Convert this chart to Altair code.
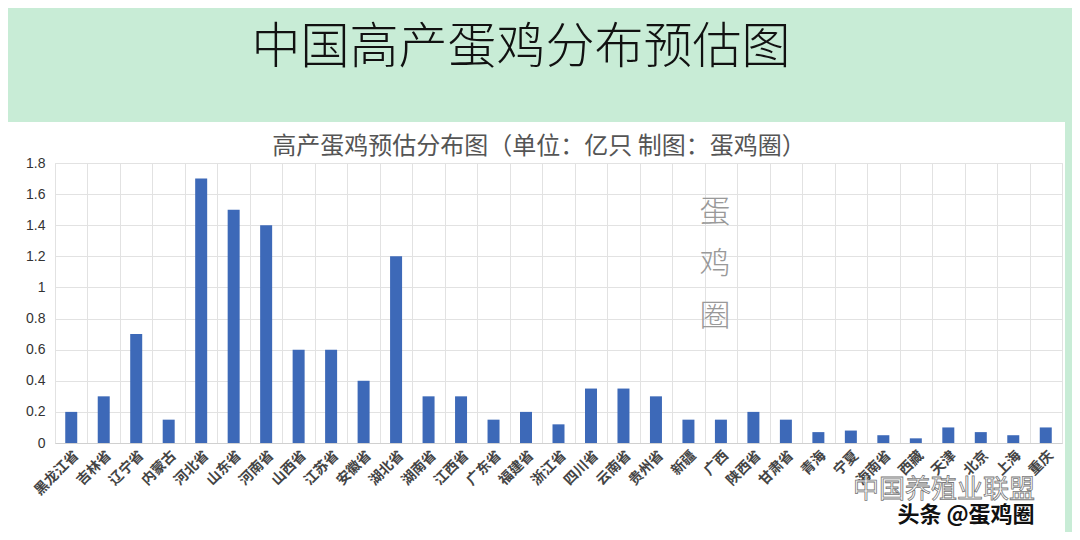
import altair as alt
import pandas as pd

# ---- data ----
provinces = ["黑龙江省", "吉林省", "辽宁省", "内蒙古", "河北省", "山东省", "河南省",
             "山西省", "江苏省", "安徽省", "湖北省", "湖南省", "江西省", "广东省",
             "福建省", "浙江省", "四川省", "云南省", "贵州省", "新疆", "广西",
             "陕西省", "甘肃省", "青海", "宁夏", "海南省", "西藏", "天津", "北京",
             "上海", "重庆"]
values = [0.2, 0.3, 0.7, 0.15, 1.7, 1.5, 1.4,
          0.6, 0.6, 0.4, 1.2, 0.3, 0.3, 0.15,
          0.2, 0.12, 0.35, 0.35, 0.3, 0.15, 0.15,
          0.2, 0.15, 0.07, 0.08, 0.05, 0.03, 0.1, 0.07,
          0.05, 0.1]
y_ticks = [0, 0.2, 0.4, 0.6, 0.8, 1.0, 1.2, 1.4, 1.6, 1.8]

main_title = "中国高产蛋鸡分布预估图"
sub_title = "高产蛋鸡预估分布图（单位：亿只 制图：蛋鸡圈）"
watermark = ["蛋", "鸡", "圈"]
wm1 = "中国养殖业联盟"
wm2 = "头条 @蛋鸡圈"

df = pd.DataFrame({"province": provinces, "value": values})
one = pd.DataFrame({"k": [0]})

W, H = 1007, 280
FONT = "Noto Sans CJK SC"
GREEN = "#c8ecd6"
GRID = "#e2e2e2"

banner = alt.Chart(one).mark_rect(color=GREEN).encode(
    x=alt.value(-47), x2=alt.value(W + 10), y=alt.value(-155), y2=alt.value(-41)
)
strip = alt.Chart(one).mark_rect(color=GREEN).encode(
    x=alt.value(W + 3), x2=alt.value(W + 10), y=alt.value(-41), y2=alt.value(H + 89)
)

bars = alt.Chart(df).mark_bar(size=12, color="#3d69b8").encode(
    x=alt.X("province:N", sort=provinces,
            scale=alt.Scale(paddingInner=0, paddingOuter=0),
            axis=alt.Axis(title=None, labelAngle=-45, labelFontSize=14,
                          labelFont=FONT, labelFontWeight="bold", labelColor="#444",
                          grid=True, gridColor=GRID, tickBand="extent", ticks=False,
                          domainColor="#d0d0d0", labelPadding=5)),
    y=alt.Y("value:Q", scale=alt.Scale(domain=[0, 1.8], nice=False),
            axis=alt.Axis(title=None, values=y_ticks, format="~g", labelFontSize=14,
                          labelColor="#333", labelFont="Liberation Sans",
                          grid=True, gridColor=GRID, domain=False, ticks=False,
                          labelPadding=10)),
)

t_main = alt.Chart(one).mark_text(font=FONT, fontSize=49, fontWeight=300, color="#111",
                                  align="center", baseline="middle").encode(
    x=alt.value(466), y=alt.value(-115), text=alt.value(main_title))
t_sub = alt.Chart(one).mark_text(font=FONT, fontSize=24, color="#555",
                                 align="center", baseline="middle").encode(
    x=alt.value(484), y=alt.value(-16), text=alt.value(sub_title))
t_wm = alt.Chart(one).mark_text(font=FONT, fontSize=31, fontWeight=300, color="#999999",
                                align="center", baseline="middle", lineHeight=52).encode(
    x=alt.value(660), y=alt.value(50), text=alt.value(watermark))
t_wm1 = alt.Chart(one).mark_text(font=FONT, fontSize=26, color="#ffffff", stroke="#777",
                                 strokeWidth=0.8, align="center", baseline="middle").encode(
    x=alt.value(889), y=alt.value(327), text=alt.value(wm1))
t_wm2 = alt.Chart(one).mark_text(font=FONT, fontSize=22, color="#111", fontWeight="bold",
                                 align="center", baseline="middle").encode(
    x=alt.value(911), y=alt.value(352), text=alt.value(wm2))

chart = alt.layer(banner, strip, bars, t_main, t_sub, t_wm, t_wm1, t_wm2).properties(
    width=W, height=H,
    padding={"left": 47, "top": 155, "right": 10, "bottom": 89},
    autosize=alt.AutoSizeParams(type="none"),
).configure(background="white").configure_view(stroke=GRID)

chart.save("out.html", embed_options={"renderer": "svg", "actions": False})
